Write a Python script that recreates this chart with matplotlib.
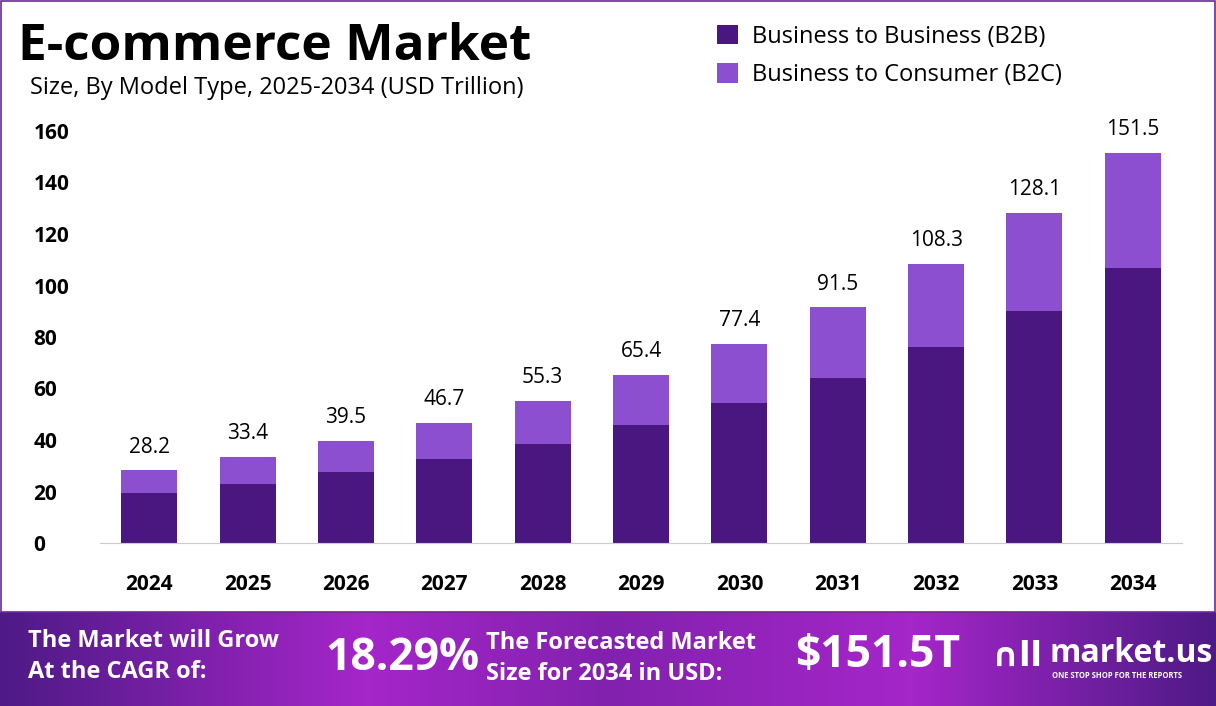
import matplotlib
matplotlib.use("Agg")
import matplotlib.pyplot as plt
import numpy as np
from matplotlib.patches import Rectangle
from matplotlib.colors import LinearSegmentedColormap

years = ["2024","2025","2026","2027","2028","2029","2030","2031","2032","2033","2034"]
totals = [28.2,33.4,39.5,46.7,55.3,65.4,77.4,91.5,108.3,128.1,151.5]
b2b = [19.5,23.0,27.7,32.7,38.6,45.8,54.4,64.1,76.1,90.1,106.9]
b2c = [t-b for t,b in zip(totals,b2b)]
yticks = [0,20,40,60,80,100,120,140,160]

C1 = "#4a1780"; C2 = "#8c4fd0"
FONT = "Open Sans"
fig = plt.figure(figsize=(12.16,7.06), dpi=100)
W,H = 1216,706
def fx(p): return p/W
def fy(p): return 1-p/H

fig.add_artist(Rectangle((0.001,fy(612)),0.998,fy(0)-fy(612)-0.001,transform=fig.transFigure,fill=False,ec="#6a2a9a",lw=1.2))

ax = fig.add_axes([fx(100),fy(543),fx(1182)-fx(100),fy(131)-fy(543)])
x = np.arange(len(years))
ax.bar(x,b2b,0.57,color=C1,label="Business to Business (B2B)")
ax.bar(x,b2c,0.57,bottom=b2b,color=C2,label="Business to Consumer (B2C)")
for xi,t in zip(x,totals):
    ax.text(xi,t+5,f"{t}",ha="center",va="bottom",fontsize=15,family=FONT)
ax.set_xlim(-0.5,10.5); ax.set_ylim(0,160)
ax.set_xticks(x); ax.set_xticklabels(years,fontsize=15,fontweight="bold",family=FONT)
ax.set_yticks(yticks); ax.set_yticklabels(yticks,fontsize=15,fontweight="bold",family=FONT)
for s in ["top","right","left"]: ax.spines[s].set_visible(False)
ax.spines["bottom"].set_color("#cccccc")
ax.tick_params(length=0)
ax.tick_params(axis="x",pad=22); ax.tick_params(axis="y",pad=48)
for l in ax.get_yticklabels(): l.set_ha("left")
ax.legend(loc="upper left",bbox_to_anchor=(fx(712),fy(20)),bbox_transform=fig.transFigure,frameon=False,
          prop={"family":FONT,"size":17},handlelength=0.9,handleheight=0.9,labelspacing=0.6,handletextpad=0.6,borderaxespad=0,borderpad=0.2)

fig.text(fx(18),fy(47),"E-commerce Market",fontsize=37,fontweight="bold",family=FONT,va="center")
fig.text(fx(30),fy(88),"Size, By Model Type, 2025-2034 (USD Trillion)",fontsize=17,family=FONT,va="center")

bax = fig.add_axes([0,0,1,fy(612)])
grad = np.interp(np.linspace(0,1,400),[0,0.3,0.5,0.75,1],[0,1,0.6,1,0])
cm = LinearSegmentedColormap.from_list("g",["#4e1a86","#a526c9"])
bax.imshow(grad[None,:],aspect="auto",cmap=cm,extent=[0,1,0,1])
bax.set_axis_off()
t = dict(color="white",fontweight="bold",family=FONT,va="center")
fig.text(fx(28),fy(641),"The Market will Grow",fontsize=17,**t)
fig.text(fx(28),fy(672),"At the CAGR of:",fontsize=17,**t)
fig.text(fx(325),fy(658),"18.29%",fontsize=32,**t)
fig.text(fx(486),fy(643),"The Forecasted Market",fontsize=17,**t)
fig.text(fx(486),fy(674),"Size for 2034 in USD:",fontsize=17,**t)
fig.text(fx(795),fy(655),"$151.5T",fontsize=32,**t)
fig.text(fx(1050),fy(653),"market.us",fontsize=23,**t)
fig.text(fx(1052),fy(676),"ONE STOP SHOP FOR THE REPORTS",fontsize=5.5,**t)
fig.text(fx(992),fy(656),"∩ll",fontsize=24,color="white",fontweight="bold",family="DejaVu Sans",va="center")
fig.savefig("out.png",dpi=100)
